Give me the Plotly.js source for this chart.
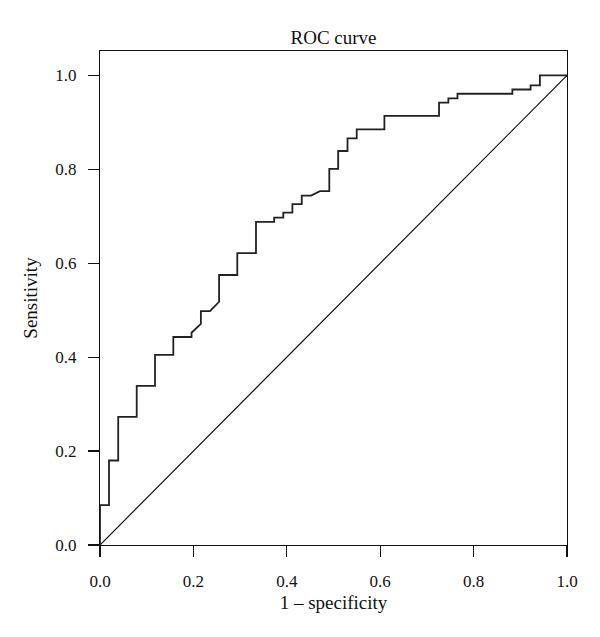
<!DOCTYPE html>
<html lang="en">
<head>
    <meta charset="UTF-8">
    <title>ROC curve</title>
    <script src="https://cdn.plot.ly/plotly-3.0.1.min.js"></script>
    <style>
        body { margin: 0; background: #fff; }
        #plot { width: 600px; height: 637px; }
    </style>
</head>
<body>
    <div id="plot"></div>
    <script>
        // ROC curve vertices (1 - specificity, sensitivity)
        const fpr = [0, 0, 0.0193, 0.0193, 0.039, 0.039, 0.0786, 0.0786, 0.1178, 0.1178,
            0.157, 0.157, 0.196, 0.196, 0.216, 0.216, 0.2355, 0.255, 0.255, 0.294,
            0.294, 0.334, 0.334, 0.373, 0.373, 0.3925, 0.3925, 0.412, 0.412, 0.432,
            0.432, 0.452, 0.471, 0.491, 0.491, 0.510, 0.510, 0.530, 0.530, 0.5497,
            0.5497, 0.609, 0.609, 0.726, 0.726, 0.746, 0.746, 0.7655, 0.7655, 0.883,
            0.883, 0.922, 0.922, 0.942, 0.942, 1];
        const tpr = [0, 0.085, 0.085, 0.18, 0.18, 0.273, 0.273, 0.339, 0.339, 0.405,
            0.405, 0.443, 0.443, 0.452, 0.471, 0.498, 0.498, 0.518, 0.575, 0.575,
            0.6215, 0.6215, 0.688, 0.688, 0.697, 0.697, 0.7076, 0.7076, 0.726, 0.726,
            0.744, 0.744, 0.7536, 0.7536, 0.801, 0.801, 0.839, 0.839, 0.866, 0.866,
            0.885, 0.885, 0.914, 0.914, 0.942, 0.942, 0.951, 0.951, 0.961, 0.961,
            0.970, 0.970, 0.979, 0.979, 1, 1];
        // chance line
        const refX = [0, 1];
        const refY = [0, 1];
        const tickVals = [0, 0.2, 0.4, 0.6, 0.8, 1.0];

        const serif = 'Liberation Serif, Times New Roman, serif';

        const roc = {
            x: fpr, y: tpr,
            type: 'scatter', mode: 'lines',
            line: { color: '#222', width: 1.8 },
            hoverinfo: 'x+y'
        };
        const chance = {
            x: refX, y: refY,
            type: 'scatter', mode: 'lines',
            line: { color: '#111', width: 1.2 },
            hoverinfo: 'skip'
        };

        const axisCommon = {
            showgrid: false,
            zeroline: false,
            showline: true,
            mirror: true,
            linecolor: '#111',
            linewidth: 1.2,
            ticks: 'outside',
            ticklen: 11,
            tickwidth: 1.2,
            tickcolor: '#111',
            tickvals: tickVals,
            tickformat: '.1f',
            tickfont: { family: serif, size: 17, color: '#111' }
        };

        const layout = {
            width: 600,
            height: 637,
            margin: { l: 100, r: 33, t: 51, b: 92 },
            paper_bgcolor: '#fff',
            plot_bgcolor: '#fff',
            showlegend: false,
            font: { family: serif, color: '#111' },
            title: {
                text: 'ROC curve',
                font: { family: serif, size: 19, color: '#111' },
                x: 0.5, xref: 'paper',
                y: 1 - 37 / 637, yref: 'container', yanchor: 'middle'
            },
            xaxis: Object.assign({}, axisCommon, {
                range: [0, 1],
                ticklabelstandoff: 9,
                title: { text: '1 – specificity', font: { family: serif, size: 19, color: '#111' }, standoff: 6 }
            }),
            yaxis: Object.assign({}, axisCommon, {
                range: [0, 1.052],
                ticklabelstandoff: 8,
                title: { text: 'Sensitivity', font: { family: serif, size: 19, color: '#111' }, standoff: 12 }
            })
        };

        Plotly.newPlot('plot', [chance, roc], layout, { displayModeBar: false, staticPlot: true });
    </script>
</body>
</html>
